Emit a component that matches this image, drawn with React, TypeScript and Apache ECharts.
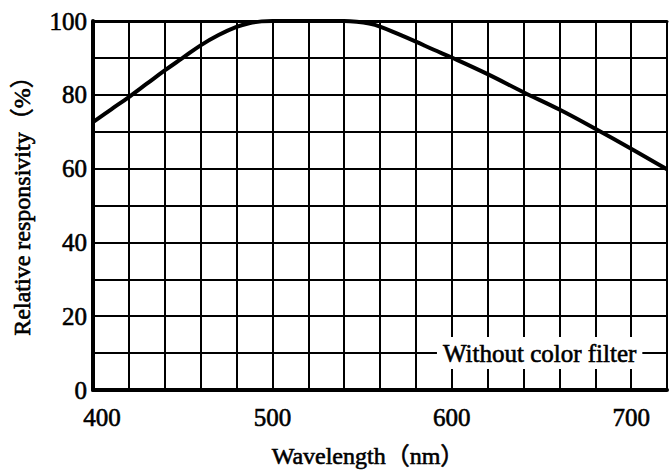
import React, { useEffect, useRef } from "react";
import * as echarts from "echarts";

const wavelengths = [400, 410, 420, 430, 440, 450, 460, 470, 480, 487, 494, 500, 520, 540, 547, 554, 560, 570, 580, 590, 600, 620, 640, 660, 680, 700, 720];
const responsivity = [72.6, 76, 79.4, 83, 86.6, 90, 93.4, 96.2, 98.4, 99.4, 99.9, 100, 100, 100, 99.8, 99.3, 98.5, 96.5, 94.4, 92.2, 90.1, 85.6, 80.7, 76, 70.8, 65.4, 59.8];
const xTickLabels = [400, 500, 600, 700];
const yTickLabels = [0, 20, 40, 60, 80, 100];
const curveLabel = "Without color filter";
const curveLabelAt = [649, 10];
const xTitle = "Wavelength（nm）";
const yTitle = "Relative responsivity（%）";

const FONT = "'Liberation Serif', 'Times New Roman', 'Noto Sans CJK SC', serif";
const heavy = { textBorderColor: "#000", textBorderWidth: 0.6 };

export default function App() {
  const ref = useRef<HTMLDivElement>(null);
  useEffect(() => {
    if (!ref.current) return;
    const chart = echarts.init(ref.current, undefined, { renderer: "svg" });
    const xAxisBase = {
      type: "value" as const,
      min: 400,
      max: 720,
      interval: 20,
    };
    chart.setOption({
      animation: false,
      backgroundColor: "#fff",
      grid: { left: 93, top: 21, bottom: 85, right: -8.6 },
      xAxis: [
        {
          ...xAxisBase,
          position: "bottom",
          axisLine: { show: true, onZero: false, lineStyle: { color: "#000", width: 4 } },
          axisTick: { show: false },
          splitLine: { show: true, lineStyle: { color: "#000", width: 2 } },
          axisLabel: {
            margin: 15,
            color: "#000",
            fontSize: 25,
            fontFamily: FONT,
            ...heavy,
            formatter: (v: number) => {
              if (!xTickLabels.includes(v)) return "";
              return v === xTickLabels[0] ? `{first|${v}}` : `${v}`;
            },
            rich: { first: { padding: [0, 0, 0, 18], fontSize: 25, fontFamily: FONT, color: "#000", ...heavy } },
          },
        },
        {
          ...xAxisBase,
          position: "top",
          axisLine: { show: true, onZero: false, lineStyle: { color: "#000", width: 3 } },
          axisTick: { show: false },
          splitLine: { show: false },
          axisLabel: { show: false },
        },
      ],
      yAxis: {
        type: "value",
        min: 0,
        max: 100,
        interval: 10,
        axisLine: { show: true, onZero: false, lineStyle: { color: "#000", width: 4 } },
        axisTick: { show: false },
        splitLine: { show: true, lineStyle: { color: "#000", width: 2 } },
        axisLabel: {
          margin: 6,
          color: "#000",
          fontSize: 25,
          fontFamily: FONT,
          ...heavy,
          formatter: (v: number) => (yTickLabels.includes(v) ? `${v}` : ""),
        },
      },
      series: [
        {
          type: "line",
          data: wavelengths.map((w, i) => [w, responsivity[i]]),
          smooth: 0.4,
          showSymbol: false,
          lineStyle: { color: "#000", width: 4 },
          z: 5,
          markPoint: {
            symbol: "circle",
            symbolSize: 0,
            data: [{ coord: curveLabelAt, value: curveLabel }],
            label: {
              show: true,
              position: "inside",
              formatter: curveLabel,
              color: "#000",
              fontSize: 25,
              lineHeight: 24,
              fontFamily: FONT,
              ...heavy,
              backgroundColor: "#fff",
              padding: [4, 6],
            },
          },
        },
      ],
      graphic: [
        {
          type: "text",
          x: 368,
          y: 456,
          style: { text: xTitle, font: `24px ${FONT}`, fill: "#000", stroke: "#000", lineWidth: 0.6, textAlign: "center", textVerticalAlign: "middle" },
        },
        {
          type: "text",
          x: 22,
          y: 200,
          rotation: Math.PI / 2,
          style: { text: yTitle, font: `24px ${FONT}`, fill: "#000", stroke: "#000", lineWidth: 0.6, textAlign: "center", textVerticalAlign: "middle" },
        },
      ],
    });
    return () => chart.dispose();
  }, []);
  return <div ref={ref} style={{ position: "fixed", left: 0, top: 0, width: 670, height: 475 }} />;
}
